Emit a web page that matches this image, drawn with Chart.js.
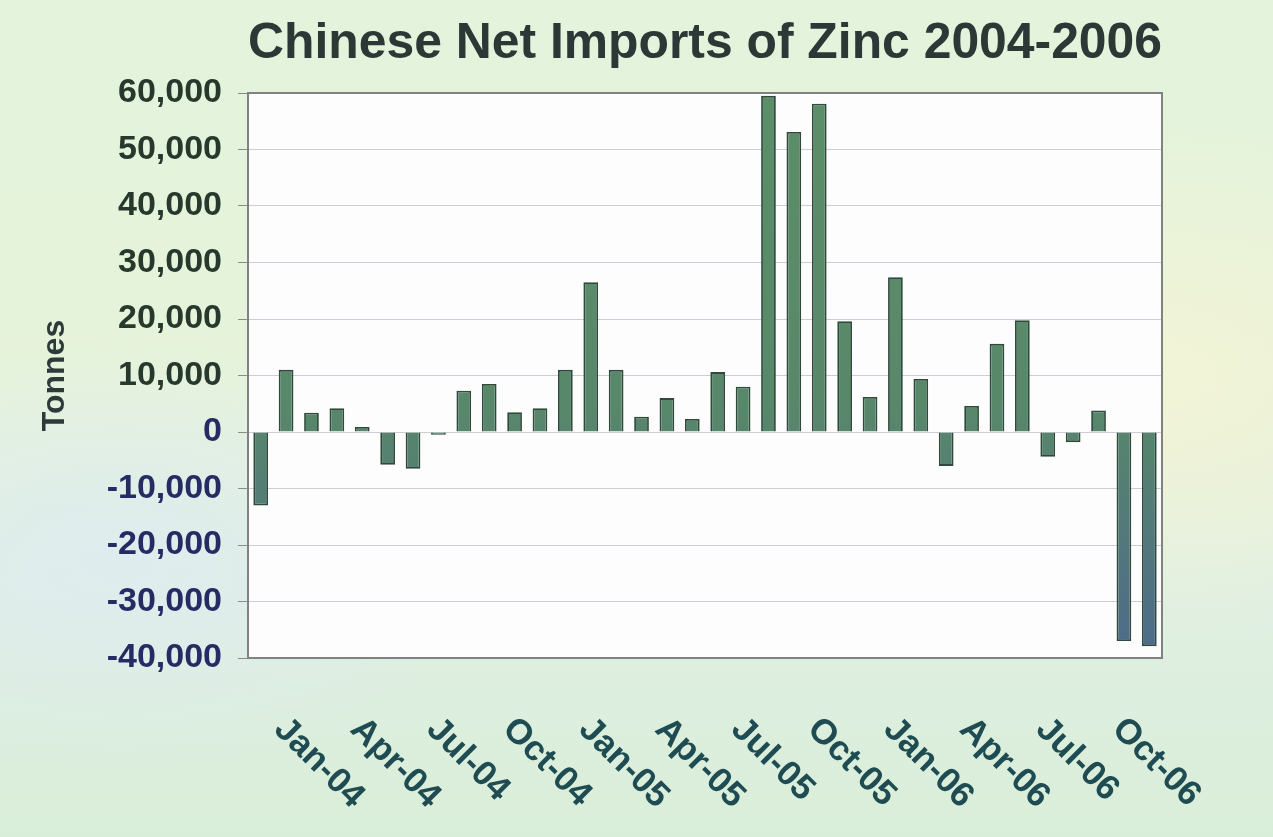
<!DOCTYPE html>
<html>
<head>
<meta charset="utf-8">
<title>Chinese Net Imports of Zinc 2004-2006</title>
<script src="https://cdn.jsdelivr.net/npm/chart.js@4/dist/chart.umd.min.js"></script>
<style>
  html, body { margin: 0; padding: 0; }
  body {
    width: 1273px;
    height: 837px;
    overflow: hidden;
    background:
      radial-gradient(ellipse 420px 260px at 1150px 380px, rgba(244, 244, 214, 0.9), rgba(244, 244, 214, 0) 100%),
      radial-gradient(ellipse 380px 220px at 120px 560px, rgba(222, 236, 240, 0.9), rgba(222, 236, 240, 0) 100%),
      linear-gradient(to bottom, #e3f3dc 0%, #e6f3da 45%, #e0efe2 70%, #d9eed9 100%);
  }
  #chart-wrap { position: absolute; left: 0; top: 0; width: 1273px; height: 837px; }
</style>
</head>
<body>
<div id="chart-wrap">
  <canvas id="zinc-chart" width="1273" height="837"></canvas>
</div>
<script>
// **********************************************
// Data: monthly net imports, tonnes

const months = [
  'Jan-04', 'Feb-04', 'Mar-04', 'Apr-04', 'May-04', 'Jun-04',
  'Jul-04', 'Aug-04', 'Sep-04', 'Oct-04', 'Nov-04', 'Dec-04',
  'Jan-05', 'Feb-05', 'Mar-05', 'Apr-05', 'May-05', 'Jun-05',
  'Jul-05', 'Aug-05', 'Sep-05', 'Oct-05', 'Nov-05', 'Dec-05',
  'Jan-06', 'Feb-06', 'Mar-06', 'Apr-06', 'May-06', 'Jun-06',
  'Jul-06', 'Aug-06', 'Sep-06', 'Oct-06', 'Nov-06', 'Dec-06'
];

const netImports = [
  -13000, 11000, 3400, 4200, 900, -5800,
  -6500, -500, 7300, 8500, 3500, 4200,
  11000, 26500, 11000, 2700, 6000, 2300,
  10600, 8000, 59500, 53100, 58100, 19600,
  6200, 27400, 9400, -6000, 4600, 15600,
  19800, -4400, -1800, 3800, -37000, -37900
];

// only every third month gets a label on the axis
const shownLabels = ['Jan-04', 'Apr-04', 'Jul-04', 'Oct-04', 'Jan-05', 'Apr-05',
  'Jul-05', 'Oct-05', 'Jan-06', 'Apr-06', 'Jul-06', 'Oct-06'];

const yTicks = [60000, 50000, 40000, 30000, 20000, 10000, 0,
  -10000, -20000, -30000, -40000];


// **********************************************
// Plugins

const FONT = '"Liberation Sans", Arial, sans-serif';

// white plot background and grey frame
const plotFrame = {
  id: 'plotFrame',
  beforeDraw(chart) {
    const {ctx, chartArea: a} = chart;
    ctx.save();
    ctx.fillStyle = '#fdfdfd';
    ctx.fillRect(a.left, a.top, a.right - a.left, a.bottom - a.top);
    ctx.restore();
  },
  afterDraw(chart) {
    const {ctx, chartArea: a} = chart;
    ctx.save();
    ctx.strokeStyle = '#7f8280';
    ctx.lineWidth = 2;
    ctx.strokeRect(a.left, a.top, a.right - a.left, a.bottom - a.top);
    ctx.restore();
  }
};

// month labels slanting down to the right, starting at their tick
const slantLabels = {
  id: 'slantLabels',
  afterDraw(chart) {
    const {ctx, chartArea: a} = chart;
    const xs = chart.scales.x;
    ctx.save();
    ctx.font = 'bold 35px ' + FONT;
    ctx.fillStyle = '#1f4c52';
    ctx.textAlign = 'left';
    ctx.textBaseline = 'middle';
    months.forEach((m, i) => {
      if (!shownLabels.includes(m)) return;
      const x = xs.getPixelForValue(i) + 19;
      const y = a.bottom + 66;
      ctx.save();
      ctx.translate(x, y);
      ctx.rotate(Math.PI / 4);
      ctx.fillText(m, 0, 0);
      ctx.restore();
    });
    ctx.restore();
  }
};


// **********************************************
// Bar chart

function barFill(context) {
  const area = context.chart.chartArea;
  if (!area) return '#5b8b68';
  const g = context.chart.ctx.createLinearGradient(0, area.top, 0, area.bottom);
  g.addColorStop(0, '#5c8e68');
  g.addColorStop(0.55, '#58886a');
  g.addColorStop(1, '#4d6a8a');
  return g;
}

let ctx = document.getElementById('zinc-chart').getContext('2d');

let zincChart = new Chart(ctx, {
  type: 'bar',
  data: {
    labels: months,
    datasets: [{
      label: 'Net imports',
      data: netImports,
      backgroundColor: barFill,
      borderColor: '#2f4a3b',
      borderWidth: 1.8,
      barPercentage: 0.58,
      categoryPercentage: 1.0
    }]
  },
  plugins: [plotFrame, slantLabels],
  options: {
    responsive: false,
    animation: false,
    layout: {
      padding: { left: 10, right: 111, top: 1, bottom: 0 }
    },
    plugins: {
      legend: { display: false },
      tooltip: { enabled: false },
      title: {
        display: true,
        fullSize: false,
        text: 'Chinese Net Imports of Zinc 2004-2006',
        color: '#2b3836',
        font: { family: FONT, size: 50, weight: 'bold' },
        padding: { top: 13, bottom: 19 }
      }
    },
    scales: {
      x: {
        ticks: { display: false },
        grid: { display: false },
        border: { display: false },
        afterFit(scale) { scale.height = 179; }
      },
      y: {
        min: -40000,
        max: 60000,
        afterBuildTicks(scale) {
          scale.ticks = yTicks.map(v => ({ value: v }));
        },
        ticks: {
          padding: 16,
          font: { family: FONT, size: 34, weight: 'bold' },
          color: (c) => c.tick.value > 0 ? '#27392c' : '#262c63',
          callback: (v) => v.toLocaleString('en-US')
        },
        grid: {
          color: '#cdccd4',
          lineWidth: 1,
          tickLength: 10,
          tickColor: '#8a8c8a'
        },
        border: { display: false },
        title: {
          display: true,
          text: 'Tonnes',
          color: '#2d3a3a',
          font: { family: FONT, size: 32, weight: 'bold' },
          padding: { top: 26, bottom: 0 }
        },
        afterFit(scale) { scale.width = 238; }
      }
    }
  }
});
</script>
</body>
</html>
